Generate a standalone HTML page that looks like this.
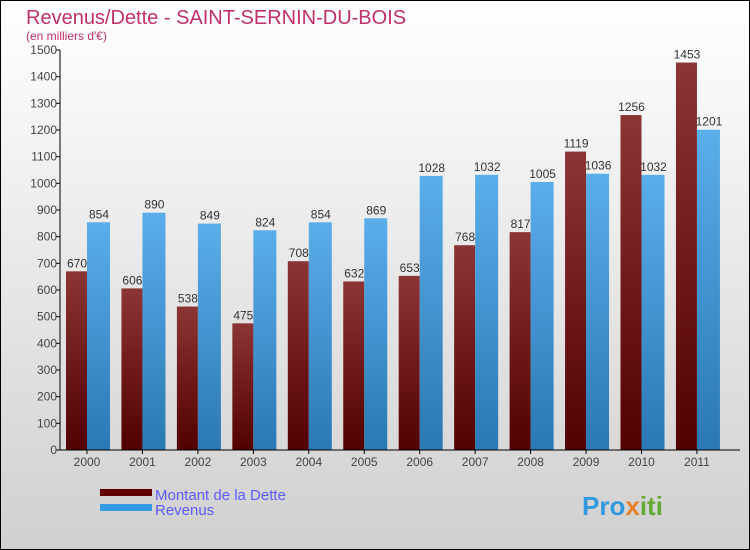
<!DOCTYPE html>
<html><head><meta charset="utf-8"><style>
body{margin:0}
#c{width:750px;height:550px;position:relative;overflow:hidden}
svg text{font-family:"Liberation Sans",sans-serif}
</style></head><body>
<div id="c">
<svg id="s" width="750" height="550" xmlns="http://www.w3.org/2000/svg">
<defs>
<linearGradient id="bg" x1="0" y1="0" x2="0" y2="1"><stop offset="0" stop-color="#ffffff"/><stop offset="1" stop-color="#d0d0d0"/></linearGradient>
<linearGradient id="gd" x1="0" y1="0" x2="0" y2="1"><stop offset="0" stop-color="#8c3535"/><stop offset="1" stop-color="#520000"/></linearGradient>
<linearGradient id="gr" x1="0" y1="0" x2="0" y2="1"><stop offset="0" stop-color="#5aaeea"/><stop offset="1" stop-color="#2a78b4"/></linearGradient>
</defs>
<rect x="0.5" y="0.5" width="749" height="549" fill="url(#bg)" stroke="#000"/>
<text x="26" y="24" font-size="20" fill="#c0306a">Revenus/Dette - SAINT-SERNIN-DU-BOIS</text>
<text x="26" y="40" font-size="12" fill="#c0306a">(en milliers d'€)</text>
<g id="plot"></g>
<g>
<rect x="100" y="489" width="52" height="7" fill="#600000"/>
<text x="155" y="500" font-size="15" fill="#5a5aff">Montant de la Dette</text>
<rect x="100" y="504" width="52" height="7" fill="#3399e0"/>
<text x="155" y="515" font-size="15" fill="#5a5aff">Revenus</text>
</g>
<text x="582" y="515" font-size="26" font-weight="bold" fill="#3399dd">Pro<tspan fill="#e8802a">x</tspan><tspan fill="#66aa33">iti</tspan></text>
</svg>
</div>
<script>
const years=["2000","2001","2002","2003","2004","2005","2006","2007","2008","2009","2010","2011"];
const dette=[670,606,538,475,708,632,653,768,817,1119,1256,1453];
const revenus=[854,890,849,824,854,869,1028,1032,1005,1036,1032,1201];
const yTicks=[0,100,200,300,400,500,600,700,800,900,1000,1100,1200,1300,1400,1500];
const NS="http://www.w3.org/2000/svg";
const g=document.getElementById('plot');
const y0=450,yTop=50,yMax=1500,x0=60,x1=740;
const yS=v=>y0-(v/yMax)*(y0-yTop);
const xC=i=>87+i*55.45;
function mk(t,a){const e=document.createElementNS(NS,t);for(const k in a)e.setAttribute(k,a[k]);g.appendChild(e);return e;}
yTicks.forEach(v=>{
 const l=mk('line',{x1:x0-4,x2:x0,y1:yS(v),y2:yS(v),stroke:'#000'});
 
 
 const t=mk('text',{x:x0-3,y:yS(v)+4,'font-size':12,'text-anchor':'end',fill:'#444'});
 t.textContent=v;
 
 
});
years.forEach((yr,i)=>{
 const c=xC(i);
 const b1=mk('rect',{x:c-21,y:yS(dette[i]),width:21,height:y0-yS(dette[i]),fill:'url(#gd)'});
 
 
 const b2=mk('rect',{x:c,y:yS(revenus[i]),width:23,height:y0-yS(revenus[i]),fill:'url(#gr)'});
 
 
 const t1=mk('text',{x:c-10,y:yS(dette[i])-4,'font-size':12,'text-anchor':'middle',fill:'#333'});
 t1.textContent=dette[i];
 
 
 const t2=mk('text',{x:c+12,y:yS(revenus[i])-4,'font-size':12,'text-anchor':'middle',fill:'#333'});
 t2.textContent=revenus[i];
 
 
 const tk=mk('line',{x1:c,x2:c,y1:y0,y2:y0+4,stroke:'#000'});
 
 
 const xl=mk('text',{x:c,y:y0+16,'font-size':12,'text-anchor':'middle',fill:'#444'});
 xl.textContent=yr;
 
 
});
const ya=mk('line',{x1:x0,x2:x0,y1:yTop,y2:y0,stroke:'#000'});


const xa=mk('line',{x1:x0,x2:x1,y1:y0,y2:y0,stroke:'#000'});


</script>
</body></html>
